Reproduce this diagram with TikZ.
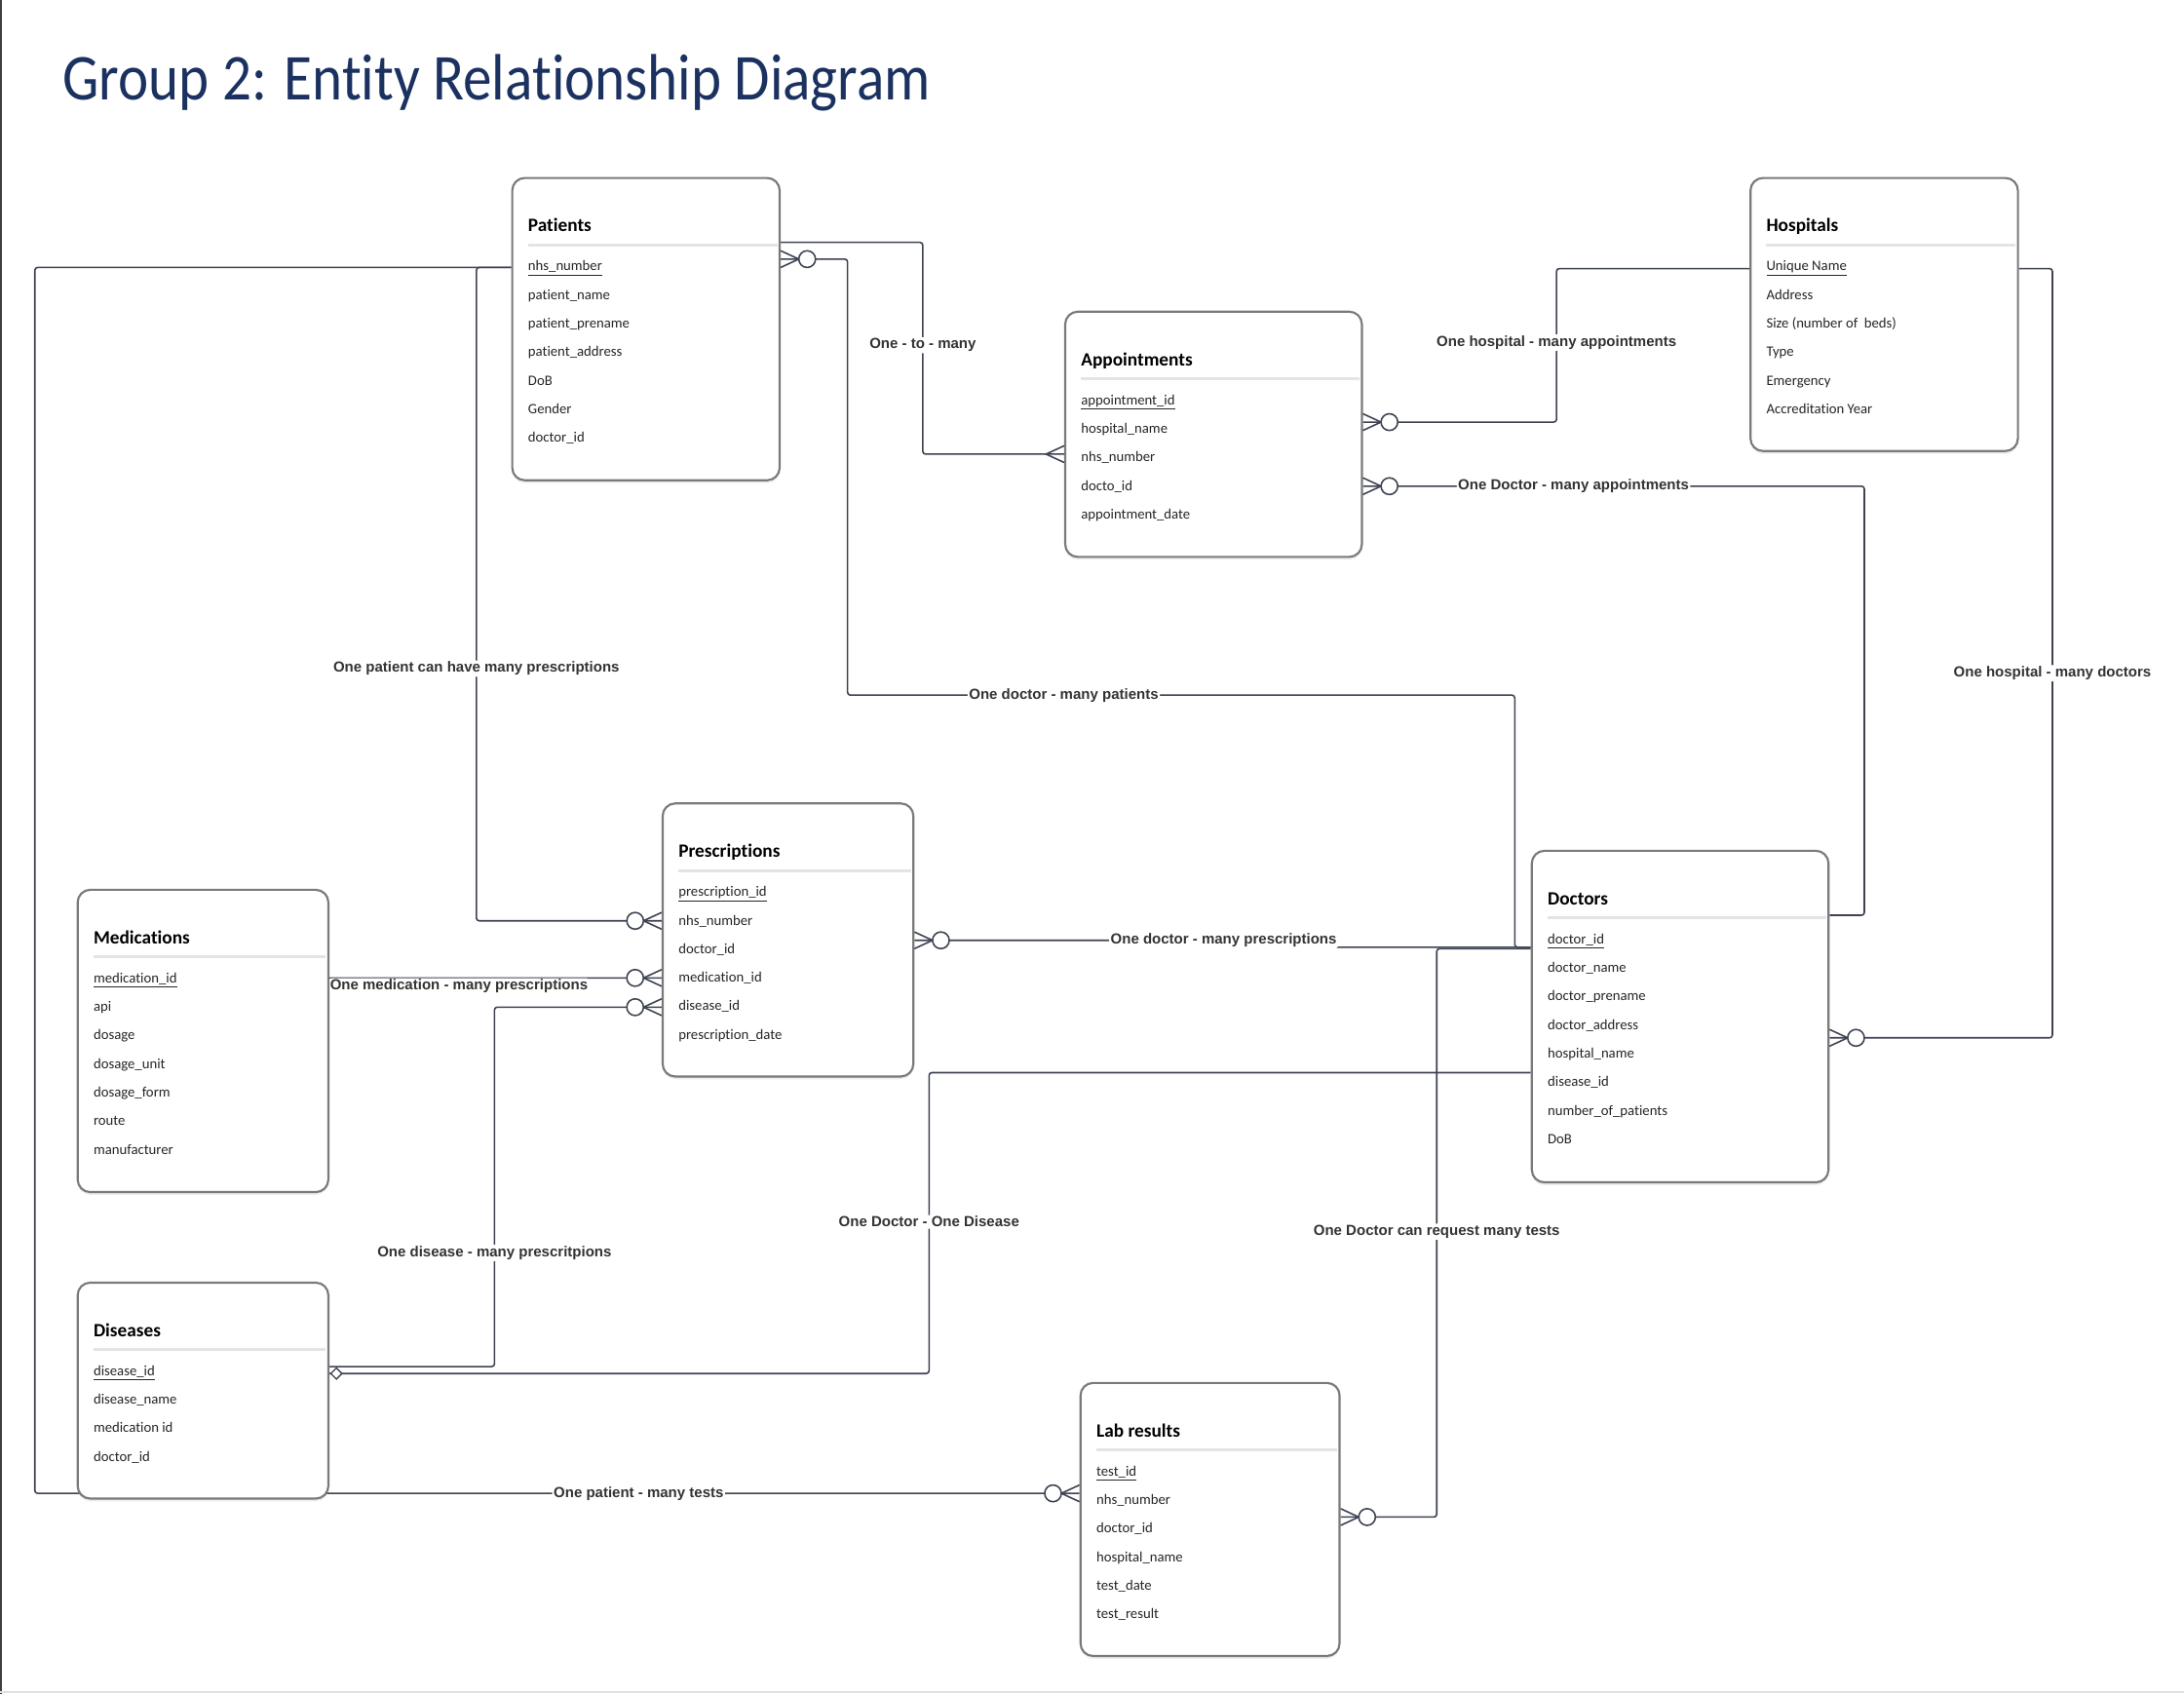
\documentclass[tikz,border=0pt]{standalone}
\usepackage{fontspec}
\usepackage{graphicx}
\setmainfont{Carlito}[Ligatures=NoCommon]
\newfontfamily\lblfont{Liberation Sans}
\usetikzlibrary{calc,shadows}

\definecolor{titleblue}{HTML}{1B3160}
\definecolor{linegray}{HTML}{3E4352}
\definecolor{boxgray}{HTML}{7A7A7A}
\definecolor{sepgray}{HTML}{E4E4E4}
\definecolor{lblgray}{HTML}{333333}

\pgfdeclarelayer{bg}
\pgfsetlayers{bg,main}

\tikzset{
  entbox/.style={draw=boxgray, line width=1.5pt, fill=white, rounded corners=9pt,
    anchor=north west, inner sep=0pt,
    drop shadow={opacity=0.15, shadow xshift=0pt, shadow yshift=-2pt}},
  enttitle/.style={anchor=base west, inner sep=0pt, font=\fontsize{13.5}{16}\selectfont\bfseries},
  attr/.style={anchor=base west, inner sep=0pt, text=black!85, font=\fontsize{10.3}{12}\selectfont},
  sepline/.style={draw=sepgray, line width=2pt},
  conn/.style={draw=linegray, line width=1.1pt, rounded corners=2pt},
  lbl/.style={fill=white, inner sep=1pt, text=lblgray, font=\lblfont\fontsize{10.5}{12}\selectfont\bfseries}
}

% entity table: name, left, top, width, height, title, fields
\newcommand{\entity}[7]{%
  \node[entbox, minimum width=#4pt, minimum height=#5pt] (#1) at (#2,#3) {};
  \node[enttitle] (#1-t) at (#2+12,#3+39.5) {#6};
  \draw[sepline] (#2+12,#3+49) -- (#2+#4-1,#3+49);
  \foreach \a [count=\i] in {#7}
    \node[attr] (#1-\i) at (#2+12,#3+47+20.5*\i) {\a};
}

% zero or many
\newcommand{\crowzero}[2]{%
  \begin{scope}[shift={#1},rotate=#2]
    \draw[conn,sharp corners] (0,6) -- (13,0) -- (0,-6);
    \draw[conn,fill=white] (19,0) circle (6pt);
  \end{scope}}
% many
\newcommand{\crowmany}[2]{%
  \begin{scope}[shift={#1},rotate=#2]
    \draw[conn,sharp corners] (0,6) -- (13,0) -- (0,-6);
  \end{scope}}
% diamond end
\newcommand{\onediamond}[1]{%
  \begin{scope}[shift={#1}]
    \draw[conn,sharp corners,line width=0.9pt,fill=white] (1,0) -- (5,-4) -- (9,0) -- (5,4) -- cycle;
  \end{scope}}

\begin{document}
\begin{tikzpicture}[x=1pt,y=-1pt]

\useasboundingbox (0,0) rectangle (1568,1216);

\node[anchor=base west, inner sep=0pt, text=titleblue] (title) at (45,72)
  {\scalebox{0.88}[1]{\fontsize{47}{56}\selectfont Group 2: Entity Relationship Diagram}};

% tables
\entity{pat}{367}{127}{192}{217}{Patients}
  {\underline{nhs\_number}, patient\_name, patient\_prename, patient\_address, DoB, Gender, doctor\_id}
\entity{app}{764}{223}{213}{176}{Appointments}
  {\underline{appointment\_id}, hospital\_name, nhs\_number, docto\_id, appointment\_date}
\entity{hos}{1256}{127}{192}{196}{Hospitals}
  {\underline{Unique Name}, Address, Size (number of\ \ beds), Type, Emergency, Accreditation Year}
\entity{pre}{475}{576}{180}{196}{Prescriptions}
  {\underline{prescription\_id}, nhs\_number, doctor\_id, medication\_id, disease\_id, prescription\_date}
\entity{med}{55}{638}{180}{217}{Medications}
  {\underline{medication\_id}, api, dosage, dosage\_unit, dosage\_form, route, manufacturer}
\entity{doc}{1099}{610}{213}{238}{Doctors}
  {\underline{doctor\_id}, doctor\_name, doctor\_prename, doctor\_address, hospital\_name, disease\_id, number\_of\_patients, DoB}
\entity{dis}{55}{920}{180}{155}{Diseases}
  {\underline{disease\_id}, disease\_name, medication id, doctor\_id}
\entity{lab}{775}{992}{186}{196}{Lab results}
  {\underline{test\_id}, nhs\_number, doctor\_id, hospital\_name, test\_date, test\_result}

\begin{pgfonlayer}{bg}
\fill[white] (0,0) rectangle (1568,1216);
\draw[black!75, line width=1.5pt] (0.75,0) -- (0.75,1216);
\draw[black!12, line width=1pt] (0,1214.5) -- (1568,1214.5);

% relationships
\draw[conn] ([yshift=-47pt]pat.north east) -- ++(102,0)
  |- node[lbl,pos=0.243] {One - to - many} ([yshift=-103pt]app.north west);
\draw[conn] ([yshift=-80pt]app.north east) -- ++(139,0)
  |- node[lbl,pos=0.259] {One hospital - many appointments} (hos.west |- hos-1);
\draw[conn] ([yshift=-126pt]app.north east) -- node[lbl,pos=0.42] {One Doctor - many appointments} ++(360,0)
  |- ([yshift=-47pt]doc.north east);
\draw[conn] (hos.east |- hos-1) -- ++(24,0)
  |- node[lbl,pos=0.263] {One hospital - many doctors} ([yshift=-135pt]doc.north east);
\draw[conn] ([yshift=-59pt]pat.north east) -- ++(48,0)
  |- node[lbl,pos=0.662] {One doctor - many patients} ++(479,313)
  |- ([yshift=-70pt]doc.north west);
\draw[conn] ([yshift=-99pt]pre.north east) -- ++(222,0) node[lbl] {One doctor - many prescriptions}
  |- ([yshift=-70pt]doc.north west);
\draw[conn] ([yshift=-97pt]lab.north east) -- ++(69,0)
  |- node[lbl,pos=0.251] {One Doctor can request many tests} ([yshift=-71pt]doc.north west);
\draw[conn] ([yshift=-160pt]doc.north west) -- ++(-432,0)
  |- node[lbl,pos=0.248] {One Doctor - One Disease} ([yshift=-66pt]dis.north east);
\draw[conn] ([yshift=-147pt]pre.north west) -- ++(-120,0)
  |- node[lbl,pos=0.342] {One disease - many prescritpions} ([yshift=-61pt]dis.north east);
\draw[conn] (med.east |- pre-4) -- node[lbl,pos=0.39,yshift=-6pt] {One medication - many prescriptions}
  ([yshift=-126pt]pre.north west);
\draw[conn] ([yshift=-65pt]pat.north west) -- ++(-25,0)
  |- node[lbl,pos=0.307] {One patient can have many prescriptions} ([yshift=-85pt]pre.north west);
\draw[conn] ([yshift=-65pt]pat.north west) -- ++(-342,0)
  |- node[lbl,pos=0.789] {One patient - many tests} ([yshift=-80pt]lab.north west);
\end{pgfonlayer}

% ends
\crowzero{([yshift=-59pt]pat.north east)}{0}
\crowmany{([yshift=-103pt]app.north west)}{180}
\crowzero{([yshift=-80pt]app.north east)}{0}
\crowzero{([yshift=-126pt]app.north east)}{0}
\crowzero{([yshift=-135pt]doc.north east)}{0}
\crowzero{([yshift=-85pt]pre.north west)}{180}
\crowzero{([yshift=-126pt]pre.north west)}{180}
\crowzero{([yshift=-147pt]pre.north west)}{180}
\crowzero{([yshift=-99pt]pre.north east)}{0}
\crowzero{([yshift=-97pt]lab.north east)}{0}
\crowzero{([yshift=-80pt]lab.north west)}{180}
\onediamond{([yshift=-66pt]dis.north east)}

\end{tikzpicture}
\end{document}
